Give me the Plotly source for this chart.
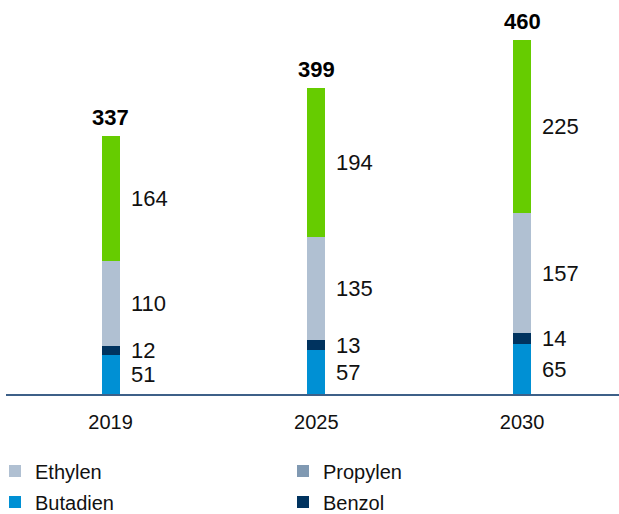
import plotly.graph_objects as go

years = ["2019", "2025", "2030"]
butadien = [51, 57, 65]
benzol = [12, 13, 14]
ethylen = [110, 135, 157]
propylen = [164, 194, 225]
totals = [337, 399, 460]

series_names = ["Butadien", "Benzol", "Ethylen", "Propylen"]
series_values = [butadien, benzol, ethylen, propylen]
bar_colors = ["#0090d4", "#00335f", "#b0c0d2", "#66cc00"]

legend_names = ["Ethylen", "Propylen", "Butadien", "Benzol"]
legend_colors = ["#b0c0d2", "#8099b2", "#0090d4", "#00335f"]
legend_groups = ["legend", "legend", "legend2", "legend2"]

FONT = "Liberation Sans"
BAR_W = 0.0875

fig = go.Figure()
for name, vals, col in zip(series_names, series_values, bar_colors):
    fig.add_trace(go.Bar(x=years, y=vals, name=name, marker=dict(color=col, line=dict(width=0)),
                         width=BAR_W, showlegend=False, hoverinfo="y+name"))

for name, col, lg in zip(legend_names, legend_colors, legend_groups):
    fig.add_trace(go.Bar(x=[None], y=[None], name=name, marker=dict(color=col, line=dict(width=0)),
                         showlegend=True, legend=lg))

annotations = []
for i, yr in enumerate(years):
    base = 0
    for vals in series_values:
        v = vals[i]
        annotations.append(dict(x=i, y=base + v / 2, xref="x", yref="y", text=str(v),
                                showarrow=False, xanchor="left", yanchor="middle", xshift=18,
                                font=dict(family=FONT, size=22, color="#111111")))
        base += v
    annotations.append(dict(x=i, y=base, xref="x", yref="y", text="<b>%d</b>" % totals[i],
                            showarrow=False, xanchor="center", yanchor="bottom", yshift=4,
                            font=dict(family=FONT, size=22, color="#000000")))

legend_common = dict(orientation="h", xref="container", yref="container", x=0,
                     indentation=-5,
                     yanchor="middle", font=dict(family=FONT, size=20, color="#111111"),
                     entrywidth=248, entrywidthmode="pixels", bgcolor="rgba(0,0,0,0)",
                     traceorder="normal", itemclick=False, itemdoubleclick=False)

fig.update_layout(
    width=619, height=514,
    margin=dict(l=6, r=0, t=0, b=120),
    barmode="stack",
    plot_bgcolor="white", paper_bgcolor="white",
    font=dict(family=FONT, color="#111111"),
    xaxis=dict(type="category", range=[-0.508, 2.471], showline=True, linecolor="#3d6088",
               linewidth=2, ticks="", showgrid=False, zeroline=False,
               tickfont=dict(family=FONT, size=20, color="#111111"), ticklabelstandoff=9),
    yaxis=dict(range=[0, 513.8], visible=False, showgrid=False, zeroline=False),
    legend=dict(legend_common, y=1 - 471 / 514),
    legend2=dict(legend_common, y=1 - 502 / 514),
    annotations=annotations,
    showlegend=True,
)

fig.write_html("out.html", config={"displayModeBar": False},
               post_script="document.body.style.margin='0';document.body.style.overflow='hidden';")
